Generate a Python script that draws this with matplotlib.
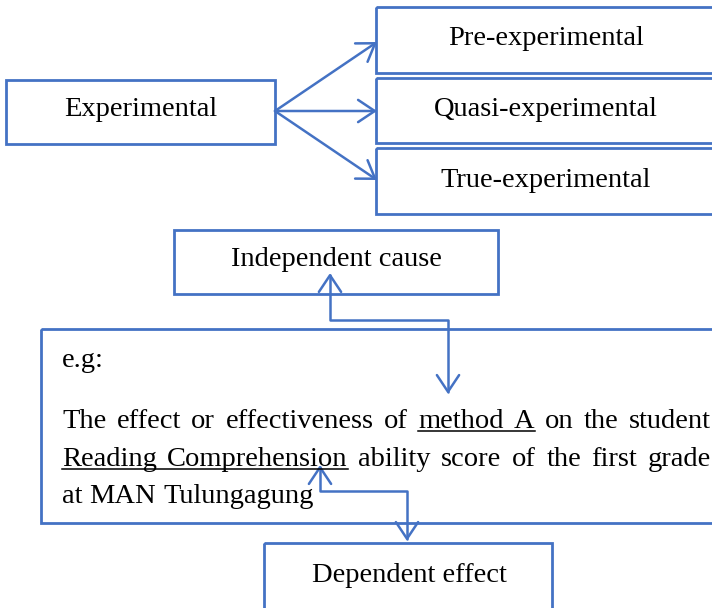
import matplotlib
matplotlib.use('Agg')
import matplotlib.pyplot as plt
from matplotlib.patches import Rectangle, FancyArrowPatch
from matplotlib.path import Path

BLUE = '#4472C4'
FONT = 'Liberation Serif'

# boxes: (label, left, top, right, bottom, text x, text baseline)
box_labels = ['Experimental', 'Pre-experimental', 'Quasi-experimental',
              'True-experimental', 'Independent cause', 'Dependent effect']
box_left = [6, 376, 376, 376, 174, 264]
box_top = [80, 7, 78, 148, 230, 543]
box_right = [275, 725, 725, 725, 498, 552]
box_bottom = [144, 73, 143, 214, 294, 620]
text_x = [141, 546, 546, 546, 336, 409]
text_base = [116, 45, 116, 187, 266, 582]

# example box
eg_box = (41, 329, 725, 523)
eg_label = 'e.g:'
lines = [['The', 'effect', 'or', 'effectiveness', 'of', 'method', 'A', 'on', 'the', 'student'],
         ['Reading', 'Comprehension', 'ability', 'score', 'of', 'the', 'first', 'grade'],
         ['at', 'MAN', 'Tulungagung']]
underlined = [[5, 6], [0, 1], []]
justify = [True, True, False]
line_base = [428, 466, 503]

# arrows
fan_start = (275, 111)
fan_ends = [(377, 42), (377, 111), (377, 180)]
elbow1 = [(330, 273), (330, 320), (448, 320), (448, 394)]
elbow2 = [(320, 465), (320, 491), (407, 491), (407, 541)]

fig = plt.figure(figsize=(7.12, 6.08), dpi=100)
ax = fig.add_axes([0, 0, 1, 1])
ax.set_xlim(0, 712)
ax.set_ylim(608, 0)
ax.axis('off')

for i, lab in enumerate(box_labels):
    ax.add_patch(Rectangle((box_left[i], box_top[i]), box_right[i] - box_left[i],
                           box_bottom[i] - box_top[i], fill=False, ec=BLUE, lw=2.0))
    ax.text(text_x[i], text_base[i], lab, ha='center', va='baseline',
            fontsize=20.5, family=FONT, color='black')

ax.add_patch(Rectangle((eg_box[0], eg_box[1]), eg_box[2] - eg_box[0], eg_box[3] - eg_box[1],
                       fill=False, ec=BLUE, lw=2.0))
ax.text(62, 367, eg_label, ha='left', va='baseline', fontsize=20.5, family=FONT)

fig.canvas.draw()
renderer = fig.canvas.get_renderer()
left, right = 62, 711
for li, words in enumerate(lines):
    objs = [ax.text(0, line_base[li], w, ha='left', va='baseline', fontsize=20.5, family=FONT)
            for w in words]
    widths = [o.get_window_extent(renderer).width for o in objs]
    t1 = ax.text(0, 0, 'a b', fontsize=20.5, family=FONT)
    t2 = ax.text(0, 0, 'ab', fontsize=20.5, family=FONT)
    sp = t1.get_window_extent(renderer).width - t2.get_window_extent(renderer).width
    t1.remove()
    t2.remove()
    if justify[li]:
        gap = (right - left - sum(widths)) / (len(words) - 1)
    else:
        gap = sp
    x = left
    xs = []
    for o, w in zip(objs, widths):
        o.set_x(x)
        xs.append((x, x + w))
        x += w + gap
    if underlined[li]:
        a, b = underlined[li][0], underlined[li][-1]
        ax.plot([xs[a][0], xs[b][1]], [line_base[li] + 3, line_base[li] + 3],
                color='black', lw=1.1)

head = ',head_length=0.6,head_width=0.4'
for end in fan_ends:
    ax.add_patch(FancyArrowPatch(fan_start, end, arrowstyle='->' + head, mutation_scale=20,
                                 color=BLUE, lw=1.8, shrinkA=0, shrinkB=0))

for pts in [elbow1, elbow2]:
    path = Path(pts, [Path.MOVETO] + [Path.LINETO] * (len(pts) - 1))
    ax.add_patch(FancyArrowPatch(path=path, arrowstyle='<->' + head, mutation_scale=20,
                                 color=BLUE, lw=1.8, shrinkA=0, shrinkB=0))

fig.savefig('out.png', dpi=100)
